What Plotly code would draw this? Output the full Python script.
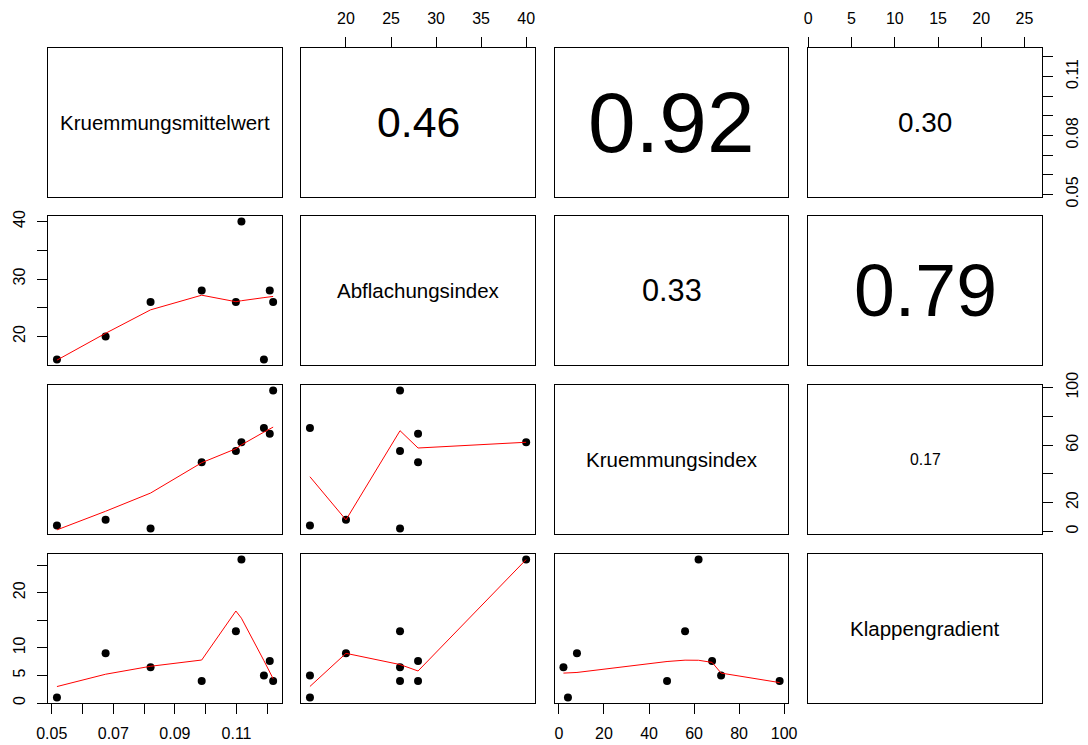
import numpy as np
import plotly.graph_objects as go

# ---------------- data ----------------
var_names = ["Kruemmungsmittelwert", "Abflachungsindex", "Kruemmungsindex", "Klappengradient"]
kruemmungsmittelwert = [0.0517, 0.0675, 0.0821, 0.0987, 0.1098, 0.1116, 0.1189, 0.1208, 0.1219]
abflachungsindex = [16, 20, 26, 28, 26, 40, 16, 28, 26]
kruemmungsindex = [4, 8, 2, 48, 56, 62, 72, 68, 98]
klappengradient = [1, 9, 6.5, 4, 13, 26, 5, 7.6, 4]

# correlation texts shown in upper panels: (row, col, value)
cor_rows = [0, 0, 0, 1, 1, 2]
cor_cols = [1, 2, 3, 2, 3, 3]
cor_vals = [0.46, 0.92, 0.30, 0.33, 0.79, 0.17]

# tick values / labels per variable
tick_vals = [
    [0.05, 0.06, 0.07, 0.08, 0.09, 0.10, 0.11, 0.12],
    [20, 25, 30, 35, 40],
    [0, 20, 40, 60, 80, 100],
    [0, 5, 10, 15, 20, 25],
]
tick_text_x = [  # bottom / top axes
    ["0.05", "", "0.07", "", "0.09", "", "0.11", ""],
    ["20", "25", "30", "35", "40"],
    ["0", "20", "40", "60", "80", "100"],
    ["0", "5", "10", "15", "20", "25"],
]
tick_text_y = [  # left / right axes
    ["0.05", "", "", "0.08", "", "", "0.11", ""],
    ["20", "", "30", "", "40"],
    ["0", "20", "", "60", "", "100"],
    ["0", "5", "10", "", "20", ""],
]

data = [np.array(kruemmungsmittelwert, float), np.array(abflachungsindex, float),
        np.array(kruemmungsindex, float), np.array(klappengradient, float)]


# ------------- R's lowess (clowess port) -------------
def _lowest(x, y, n, xs, nleft, nright, w, userw, rw):
    rng = x[n - 1] - x[0]
    h = max(xs - x[nleft], x[nright] - xs)
    h9 = 0.999 * h
    h1 = 0.001 * h
    a = 0.0
    j = nleft
    while j < n:
        w[j] = 0.0
        r = abs(x[j] - xs)
        if r <= h9:
            if r <= h1:
                w[j] = 1.0
            else:
                w[j] = (1.0 - (r / h) ** 3) ** 3
            if userw:
                w[j] *= rw[j]
            a += w[j]
        elif x[j] > xs:
            break
        j += 1
    nrt = j - 1
    if a <= 0.0:
        return None
    for k in range(nleft, nrt + 1):
        w[k] /= a
    if h > 0.0:
        a = sum(w[k] * x[k] for k in range(nleft, nrt + 1))
        b = xs - a
        c = sum(w[k] * (x[k] - a) ** 2 for k in range(nleft, nrt + 1))
        if np.sqrt(c) > 0.001 * rng:
            b /= c
            for k in range(nleft, nrt + 1):
                w[k] *= (b * (x[k] - a) + 1.0)
    return sum(w[k] * y[k] for k in range(nleft, nrt + 1))


def lowess(x, y, f=2 / 3, nsteps=3):
    order = np.argsort(x, kind="stable")
    x = np.asarray(x, float)[order]
    y = np.asarray(y, float)[order]
    n = len(x)
    delta = 0.01 * (x[-1] - x[0])
    ns = max(2, min(n, int(f * n + 1e-7)))
    ys = np.zeros(n)
    rw = np.zeros(n)
    res = np.zeros(n)
    it = 1
    while it <= nsteps + 1:
        nleft, nright, last, i = 0, ns - 1, -1, 0
        while True:
            if nright < n - 1:
                d1 = x[i] - x[nleft]
                d2 = x[nright + 1] - x[i]
                if d1 > d2:
                    nleft += 1
                    nright += 1
                    continue
            v = _lowest(x, y, n, x[i], nleft, nright, res, it > 1, rw)
            ys[i] = v if v is not None else y[i]
            if last < i - 1:
                denom = x[i] - x[last]
                for j in range(last + 1, i):
                    alpha = (x[j] - x[last]) / denom
                    ys[j] = alpha * ys[i] + (1 - alpha) * ys[last]
            last = i
            cut = x[last] + delta
            i = last + 1
            while i < n:
                if x[i] > cut:
                    break
                if x[i] == x[last]:
                    ys[i] = ys[last]
                    last = i
                i += 1
            i = max(last + 1, i - 1)
            if last >= n - 1:
                break
        res = y - ys
        sc = np.mean(np.abs(res))
        if it > nsteps:
            break
        r = np.abs(res)
        srt = np.sort(r)
        m1 = n // 2
        if n % 2 == 0:
            cmad = 3.0 * (srt[m1] + srt[n - m1 - 1])
        else:
            cmad = 6.0 * srt[m1]
        if cmad < 1e-7 * sc:
            break
        c9, c1 = 0.999 * cmad, 0.001 * cmad
        rw = np.where(r <= c1, 1.0, np.where(r <= c9, (1 - (r / cmad) ** 2) ** 2, 0.0))
        res = np.zeros(n)
        it += 1
    return x, ys


# ---------------- layout geometry ----------------
W, H = 1088, 745
col_left = [48.3, 301.3, 554.8, 808.3]
panel_w = 233.5
row_top = [47.5, 216.0, 385.0, 554.0]
panel_h = 149.0


def rng_of(v):
    lo, hi = float(np.min(v)), float(np.max(v))
    e = 0.04 * (hi - lo)
    return [lo - e, hi + e]


ranges = [rng_of(v) for v in data]

FONT = "Liberation Sans, Arial, sans-serif"
fig = go.Figure()
layout = dict(
    width=W, height=H, margin=dict(l=0, r=0, t=0, b=0, autoexpand=False),
    paper_bgcolor="white", plot_bgcolor="white", showlegend=False,
    font=dict(family=FONT, size=16, color="black"),
)
annotations = []

for i in range(4):
    for j in range(4):
        k = i * 4 + j + 1
        xa = "x" if k == 1 else f"x{k}"
        ya = "y" if k == 1 else f"y{k}"
        xdom = [col_left[j] / W, (col_left[j] + panel_w) / W]
        ydom = [1 - (row_top[i] + panel_h) / H, 1 - row_top[i] / H]

        xaxis = dict(domain=xdom, range=ranges[j], anchor=ya, showgrid=False, zeroline=False,
                     showline=True, mirror=True, linecolor="black", linewidth=1,
                     ticks="", showticklabels=False, fixedrange=True, automargin=False)
        yaxis = dict(domain=ydom, range=ranges[i], anchor=xa, showgrid=False, zeroline=False,
                     showline=True, mirror=True, linecolor="black", linewidth=1,
                     ticks="", showticklabels=False, fixedrange=True, automargin=False)

        tick_common = dict(ticks="outside", ticklen=10, tickwidth=1, tickcolor="black",
                           showticklabels=True, tickfont=dict(family=FONT, size=16, color="black"),
                           tickmode="array", ticklabelstandoff=6)
        if i == 3 and j % 2 == 0:
            xaxis.update(tick_common, side="bottom", tickvals=tick_vals[j], ticktext=tick_text_x[j])
        if i == 0 and j % 2 == 1:
            xaxis.update(tick_common, side="top", tickvals=tick_vals[j], ticktext=tick_text_x[j])
        if j == 0 and i % 2 == 1:
            yaxis.update(tick_common, side="left", tickvals=tick_vals[i], ticktext=tick_text_y[i],
                         tickangle=-90)
        if j == 3 and i % 2 == 0:
            yaxis.update(tick_common, side="right", tickvals=tick_vals[i], ticktext=tick_text_y[i],
                         tickangle=-90)

        layout["xaxis" if k == 1 else f"xaxis{k}"] = xaxis
        layout["yaxis" if k == 1 else f"yaxis{k}"] = yaxis

        if i > j:
            # scatter with lowess smoother
            fig.add_trace(go.Scatter(x=data[j], y=data[i], mode="markers", xaxis=xa, yaxis=ya,
                                     marker=dict(color="black", size=8), hoverinfo="skip"))
            lx, ly = lowess(data[j], data[i])
            fig.add_trace(go.Scatter(x=lx, y=ly, mode="lines", xaxis=xa, yaxis=ya,
                                     line=dict(color="red", width=1), hoverinfo="skip"))
        else:
            fig.add_trace(go.Scatter(x=[], y=[], mode="markers", xaxis=xa, yaxis=ya))
            if i == j:
                annotations.append(dict(text=var_names[i], x=0.5, y=0.5,
                                        xref=f"{xa} domain", yref=f"{ya} domain",
                                        showarrow=False, xanchor="center", yanchor="middle",
                                        font=dict(family=FONT, size=20.5, color="black")))

for r, c, v in zip(cor_rows, cor_cols, cor_vals):
    k = r * 4 + c + 1
    annotations.append(dict(text=f"{v:.2f}", x=0.5, y=0.5,
                            xref=f"x{k} domain", yref=f"y{k} domain",
                            showarrow=False, xanchor="center", yanchor="middle",
                            font=dict(family=FONT, size=93 * v, color="black")))

layout["annotations"] = annotations
fig.update_layout(**layout)
fig.write_html("out.html")
